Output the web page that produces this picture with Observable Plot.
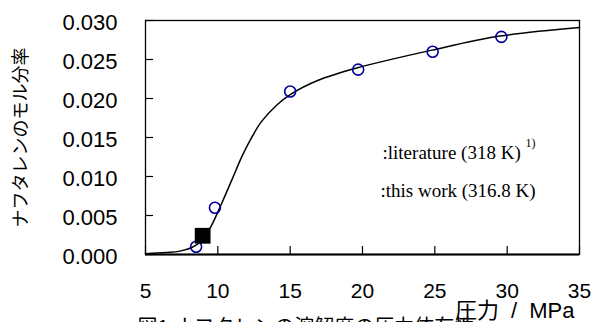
<!DOCTYPE html>
<html><head><meta charset="utf-8">
<script src="https://cdn.jsdelivr.net/npm/d3@7"></script>
<script src="https://cdn.jsdelivr.net/npm/@observablehq/plot@0.6"></script>
<style>
body{margin:0;background:#fff;overflow:hidden}
</style>
</head><body><div id="chart"></div>
<script>
// Literature data (open circles)
const litP = [8.5, 9.8, 15.0, 19.7, 24.85, 29.6];
const litX = [0.0010, 0.0060, 0.0209, 0.0237, 0.0260, 0.0279];
// This work (filled square)
const workP = [8.95];
const workX = [0.0024];
// Smooth curve
const curveP = [5, 6.4, 7.3, 8.2, 8.9, 9.5, 10.3, 11.0, 11.7, 12.4, 13.0, 14.1, 15.0, 16.9, 19.6, 24.8, 29.5, 35];
const curveX = [0.0001, 0.00026, 0.0004, 0.0009, 0.0018, 0.0035, 0.0067, 0.0097, 0.0127, 0.0152, 0.0170, 0.0192, 0.0205, 0.0223, 0.0239, 0.0262, 0.0280, 0.0291];
const xTicks = [5, 10, 15, 20, 25, 30, 35];
const yTicks = [0, 0.005, 0.010, 0.015, 0.020, 0.025, 0.030];
const xLabel = "圧力 / MPa";
const yLabel = "ナフタレンのモル分率";
const legend1 = ":literature (318 K)";
const legend1Sup = "1)";
const legend2 = ":this work (316.8 K)";
const caption = "図1 ナフタレンの溶解度の圧力依存性";

const lit = litP.map((p, i) => ({p, x: litX[i]}));
const work = workP.map((p, i) => ({p, x: workX[i]}));
const curve = curveP.map((p, i) => ({p, x: curveX[i]}));

const sans = "'Liberation Sans', Arial, 'Noto Sans CJK JP', sans-serif";
const serif = "'Liberation Serif', 'Times New Roman', serif";

const chart = Plot.plot({
  width: 591, height: 322,
  marginLeft: 145, marginRight: 12, marginTop: 20, marginBottom: 68,
  style: {fontFamily: sans, background: "white", overflow: "visible", color: "black"},
  x: {domain: [5, 35]},
  y: {domain: [0, 0.03]},
  marks: [
    Plot.axisX(xTicks, {tickSize: -8, text: null, label: null, stroke: "black", strokeWidth: 1.2}),
    Plot.text(xTicks, {x: d => d, text: d => String(d), frameAnchor: "bottom", dy: 29, lineAnchor: "top", textAnchor: "middle", fontSize: 21}),
    Plot.axisY(yTicks, {tickSize: -8, text: null, label: null, stroke: "black", strokeWidth: 1.2}),
    Plot.axisY(yTicks, {tickSize: 0, tickPadding: 28, fontSize: 22, dy: 2, tickFormat: d3.format(".3f"), label: null}),
    Plot.line(curve, {x: "p", y: "x", curve: "catmull-rom", stroke: "black", strokeWidth: 1.5}),
    Plot.dot(lit, {x: "p", y: "x", r: 5.5, stroke: "#000099", strokeWidth: 1.6, fill: "none"}),
    Plot.dot(work, {x: "p", y: "x", symbol: "square", r: 8.9, fill: "black", stroke: "none"}),
    Plot.frame({stroke: "black", strokeWidth: 1.3}),
    Plot.ruleY([0], {stroke: "black", strokeWidth: 2}),
    Plot.text([legend1], {text: d => d, frameAnchor: "top-left", dx: 237, dy: 138, lineAnchor: "bottom", textAnchor: "start", fontFamily: serif, fontSize: 19}),
    Plot.text([legend1Sup], {text: d => d, frameAnchor: "top-left", dx: 380, dy: 126, lineAnchor: "bottom", textAnchor: "start", fontFamily: serif, fontSize: 12}),
    Plot.text([legend2], {text: d => d, frameAnchor: "top-left", dx: 235, dy: 176, lineAnchor: "bottom", textAnchor: "start", fontFamily: serif, fontSize: 19}),
    Plot.text([yLabel], {text: d => d, frameAnchor: "left", dx: -124, rotate: -90, textAnchor: "middle", lineAnchor: "middle", fontSize: 18, fontFamily: "'Noto Sans CJK JP', sans-serif"}),
    Plot.text([xLabel], {text: d => d, frameAnchor: "bottom-right", dx: -5, dy: 56, textAnchor: "end", lineAnchor: "middle", fontSize: 22}),
    Plot.text([caption], {text: d => d, frameAnchor: "bottom-left", dx: -8, dy: 65, textAnchor: "start", lineAnchor: "top", fontSize: 20})
  ]
});
d3.select(chart).selectAll("text").filter(function() { return this.textContent === xLabel; }).style("word-spacing", "6px");
document.getElementById("chart").appendChild(chart);
</script>
</body></html>
